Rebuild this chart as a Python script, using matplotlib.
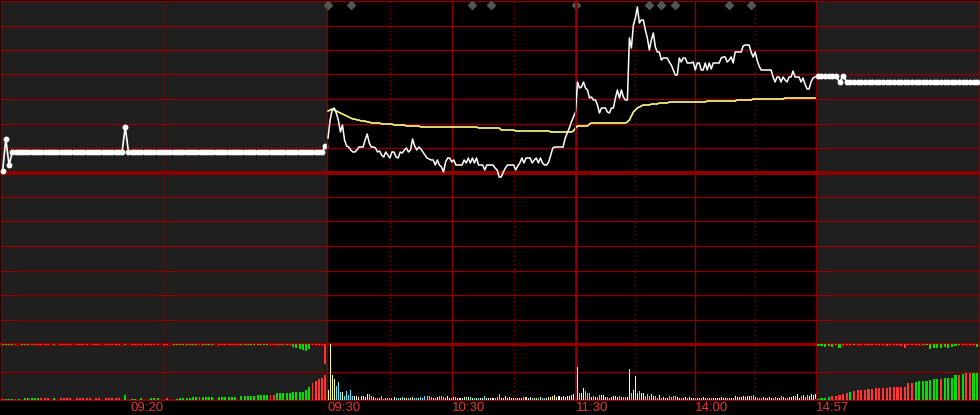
import numpy as np
import matplotlib
matplotlib.use("Agg")
import matplotlib.pyplot as plt
from matplotlib.transforms import blended_transform_factory

# ---------------- data ----------------
prev_close = 17.275
grid_step = 0.245

# call auction 09:15-09:25 (snapshot prices)
pre_price = [
    17.29, 17.61, 17.35, 17.48, 17.48, 17.48, 17.48, 17.48, 17.48, 17.48,
    17.48, 17.48, 17.48, 17.48, 17.48, 17.48, 17.48, 17.48, 17.48, 17.48,
    17.48, 17.48, 17.48, 17.48, 17.48, 17.48, 17.48, 17.48, 17.48, 17.48,
    17.48, 17.48, 17.48, 17.48, 17.48, 17.48, 17.48, 17.48, 17.73, 17.48,
    17.48, 17.48, 17.48, 17.48, 17.48, 17.48, 17.48, 17.48, 17.48, 17.48,
    17.48, 17.48, 17.48, 17.48, 17.48, 17.48, 17.48, 17.48, 17.48, 17.48,
    17.48, 17.48, 17.48, 17.48, 17.48, 17.48, 17.48, 17.48, 17.48, 17.48,
    17.48, 17.48, 17.48, 17.48, 17.48, 17.48, 17.48, 17.48, 17.48, 17.48,
    17.48, 17.48, 17.48, 17.48, 17.48, 17.48, 17.48, 17.48, 17.48, 17.48,
    17.48, 17.48, 17.48, 17.48, 17.48, 17.48, 17.48, 17.48, 17.48, 17.48,
    17.54,
]
# signed volumes: + red (buy side), - green (sell side)
pre_vol_matched = [
    1, -1, -1, -1, -1, -1, 0, -2, -2, -2,
    -2, -2, 2, 2, 2, 0, -2, 0, 2, 2,
    2, 2, 0, 2, 2, 2, 2, 2, 0, 2,
    2, 0, 2, 2, 2, 2, 2, 0, -5, 0,
    -1, -1, 0, -2, 0, 0, -2, -2, -2, 0,
    0, 2, 0, 0, -1, -2, -2, -2, -2, -3,
    -3, -3, -3, -3, -3, -3, 0, -3, -3, -3,
    -3, -3, -3, 0, -4, -4, -4, -4, -4, -5,
    -5, -5, -5, 5, 5, -7, -7, -7, -7, -7,
    -8, -8, -8, -8, -10, -13, 17, 19, 21, 22,
    25,
]
pre_vol_unmatched = [
    -1, -1, -1, -1, -1, 0, -1, -1, -1, -1,
    1, 1, 1, 1, 1, 0, -1, 0, 1, 1,
    1, 1, 0, 1, 1, 1, 1, 0, 1, 1,
    1, 0, 1, 1, 1, 1, 1, 0, -1, 0,
    1, 1, 1, 1, 1, 1, 1, 1, 1, 0,
    1, 1, 0, -1, -1, -1, -1, -1, -1, -1,
    -1, -1, -1, -1, -1, -1, 0, 1, 1, 1,
    1, 1, 1, 1, -1, -1, -1, -1, -1, -1,
    -1, -1, -1, 1, 1, 1, -1, 1, -1, 1,
    -3, -4, -5, -6, -7, -5, 1, 1, 1, 1,
    20,
]

# continuous session, one value per minute (09:30 ... 11:30 | 13:01 ... 15:00)
main_price = [
    17.62, 17.80, 17.90, 17.92, 17.87, 17.80, 17.68, 17.75, 17.60, 17.54,
    17.53, 17.50, 17.48, 17.48, 17.50, 17.53, 17.53, 17.53, 17.60, 17.66,
    17.57, 17.53, 17.53, 17.52, 17.48, 17.49, 17.45, 17.43, 17.48, 17.45,
    17.42, 17.48, 17.48, 17.43, 17.42, 17.48, 17.47, 17.50, 17.52, 17.48,
    17.50, 17.61, 17.54, 17.50, 17.53, 17.51, 17.48, 17.45, 17.42, 17.41,
    17.40, 17.40, 17.35, 17.40, 17.35, 17.33, 17.28, 17.38, 17.42, 17.42,
    17.38, 17.40, 17.35, 17.35, 17.35, 17.35, 17.40, 17.37, 17.42, 17.37,
    17.42, 17.37, 17.42, 17.35, 17.35, 17.35, 17.30, 17.35, 17.35, 17.35,
    17.35, 17.32, 17.30, 17.23, 17.23, 17.28, 17.32, 17.35, 17.35, 17.35,
    17.35, 17.30, 17.34, 17.37, 17.42, 17.37, 17.42, 17.42, 17.42, 17.37,
    17.40, 17.42, 17.37, 17.42, 17.37, 17.35, 17.35, 17.38, 17.45, 17.52,
    17.53, 17.53, 17.53, 17.53, 17.53, 17.62, 17.67, 17.72, 17.78, 17.83,
    17.88,
    18.18, 18.12, 18.13, 18.18, 18.12, 18.10, 18.02, 18.03, 18.00, 18.00,
    17.95, 17.87, 17.92, 17.92, 17.92, 17.88, 17.87, 17.92, 17.92, 18.02,
    18.10, 18.02, 18.10, 18.03, 18.00, 18.00, 18.62, 18.52, 18.75, 18.82,
    18.93, 18.77, 18.80, 18.80, 18.70, 18.62, 18.50, 18.60, 18.67, 18.53,
    18.48, 18.48, 18.40, 18.42, 18.42, 18.42, 18.38, 18.35, 18.30, 18.25,
    18.25, 18.42, 18.38, 18.42, 18.42, 18.37, 18.37, 18.37, 18.38, 18.30,
    18.37, 18.37, 18.30, 18.30, 18.37, 18.30, 18.37, 18.31, 18.37, 18.37,
    18.37, 18.37, 18.42, 18.43, 18.43, 18.38, 18.40, 18.43, 18.37, 18.48,
    18.48, 18.48, 18.48, 18.54, 18.55, 18.55, 18.55, 18.48, 18.43, 18.48,
    18.40, 18.34, 18.30, 18.30, 18.30, 18.30, 18.30, 18.30, 18.23, 18.18,
    18.23, 18.23, 18.18, 18.23, 18.20, 18.18, 18.23, 18.23, 18.29, 18.23,
    18.23, 18.23, 18.18, 18.22, 18.16, 18.11, 18.11, 18.18, 18.22, 18.23,
]
main_avg = [
    17.89, 17.90, 17.91, 17.90, 17.89, 17.88, 17.87, 17.86, 17.85, 17.84,
    17.83, 17.82, 17.81, 17.81, 17.80, 17.80, 17.79, 17.79, 17.79, 17.78,
    17.78, 17.77, 17.77, 17.77, 17.77, 17.77, 17.76, 17.76, 17.76, 17.76,
    17.76, 17.76, 17.75, 17.75, 17.75, 17.75, 17.75, 17.75, 17.74, 17.74,
    17.74, 17.74, 17.74, 17.74, 17.74, 17.73, 17.73, 17.73, 17.73, 17.73,
    17.73, 17.73, 17.73, 17.73, 17.73, 17.73, 17.73, 17.73, 17.73, 17.73,
    17.73, 17.73, 17.73, 17.73, 17.73, 17.73, 17.73, 17.73, 17.73, 17.73,
    17.73, 17.73, 17.73, 17.72, 17.72, 17.72, 17.72, 17.72, 17.72, 17.72,
    17.72, 17.72, 17.72, 17.72, 17.70, 17.70, 17.70, 17.70, 17.70, 17.70,
    17.70, 17.69, 17.69, 17.69, 17.69, 17.69, 17.69, 17.69, 17.69, 17.69,
    17.69, 17.69, 17.69, 17.69, 17.69, 17.69, 17.69, 17.69, 17.68, 17.68,
    17.68, 17.68, 17.68, 17.68, 17.68, 17.68, 17.68, 17.68, 17.68, 17.69,
    17.72,
    17.74, 17.74, 17.74, 17.74, 17.74, 17.74, 17.76, 17.77, 17.77, 17.77,
    17.77, 17.77, 17.77, 17.77, 17.77, 17.77, 17.77, 17.77, 17.77, 17.77,
    17.77, 17.77, 17.77, 17.77, 17.77, 17.78, 17.80, 17.84, 17.88, 17.90,
    17.92, 17.93, 17.94, 17.95, 17.95, 17.95, 17.95, 17.96, 17.96, 17.96,
    17.96, 17.97, 17.97, 17.97, 17.97, 17.97, 17.98, 17.98, 17.98, 17.98,
    17.98, 17.98, 17.98, 17.98, 17.98, 17.98, 17.98, 17.98, 17.98, 17.98,
    17.98, 17.98, 17.98, 17.98, 17.98, 17.99, 17.99, 17.99, 17.99, 17.99,
    17.99, 17.99, 17.99, 17.99, 17.99, 17.99, 17.99, 17.99, 17.99, 17.99,
    18.00, 18.00, 18.00, 18.00, 18.00, 18.00, 18.00, 18.00, 18.01, 18.01,
    18.01, 18.01, 18.01, 18.01, 18.01, 18.01, 18.01, 18.01, 18.01, 18.01,
    18.01, 18.01, 18.01, 18.01, 18.02, 18.02, 18.02, 18.02, 18.02, 18.02,
    18.02, 18.02, 18.02, 18.02, 18.02, 18.02, 18.02, 18.02, 18.02, 18.02,
]
# volume in hundreds of lots
main_vol = [
    10, 56, 25, 21, 14, 18, 8, 8, 4, 9, 5, 10, 4, 4, 4, 3, 4, 4, 3, 6,
    6, 4, 3, 2, 2, 2, 4, 1, 2, 2, 2, 2, 3, 2, 2, 2, 3, 2, 2, 2,
    2, 3, 2, 2, 2, 3, 2, 4, 4, 4, 3, 2, 2, 3, 4, 4, 3, 2, 4, 2,
    2, 3, 3, 2, 2, 2, 3, 3, 3, 3, 2, 2, 2, 2, 2, 2, 4, 2, 2, 2,
    2, 2, 3, 6, 2, 2, 4, 2, 3, 2, 2, 2, 2, 2, 2, 3, 3, 2, 3, 2,
    2, 2, 2, 3, 2, 2, 2, 3, 3, 4, 5, 3, 4, 3, 4, 3, 4, 4, 5, 6,
    3,
    33, 7, 7, 12, 9, 7, 7, 3, 4, 3, 3, 5, 5, 5, 3, 3, 2, 3, 4, 4,
    3, 4, 3, 3, 3, 3, 31, 7, 10, 24, 7, 9, 7, 7, 4, 6, 4, 6, 4, 4,
    2, 5, 2, 3, 2, 2, 4, 3, 4, 4, 3, 2, 2, 2, 3, 2, 3, 2, 2, 2,
    2, 2, 2, 3, 2, 2, 2, 2, 2, 2, 2, 2, 3, 2, 2, 2, 2, 2, 2, 4,
    3, 3, 3, 4, 3, 4, 4, 4, 5, 3, 2, 2, 2, 3, 2, 2, 3, 2, 2, 3,
    2, 2, 4, 3, 2, 2, 3, 3, 4, 4, 6, 2, 4, 5, 3, 5, 4, 6, 5, 6,
]

# closing call auction 14:57-15:00
post_price = [
    18.24, 18.24, 18.24, 18.24, 18.24, 18.24, 18.18, 18.24, 18.18, 18.18,
    18.18, 18.18, 18.18, 18.18, 18.18, 18.18, 18.18, 18.18, 18.18, 18.18,
    18.18, 18.18, 18.18, 18.18, 18.18, 18.18, 18.18, 18.18, 18.18, 18.18,
    18.18, 18.18, 18.18, 18.18, 18.18, 18.18, 18.18, 18.18, 18.18, 18.18,
    18.18, 18.18, 18.18, 18.18, 18.18,
]
post_vol_matched = [
    -1, -2, -2, -3, 4, 4, 5, 6, 7, -8, 9, 10, 10, 10, 11, 11, 12, 12, 12, 12,
    13, 13, 13, 13, 13, 17, 17, -18, -19, -19, -19, -20, -21, -21, 21, -22,
    -22, -22, -25, 25, -26, 27, 27, -27, -27,
]
post_vol_unmatched = [
    -2, -2, -3, -2, -3, 1, -4, 1, 1, 1, -1, 1, 1, 1, 1, 1, 1, 1, 1, 2,
    1, 1, 1, 2, 4, 1, 1, 1, 1, -1, -1, -5, -4, -4, -4, -3, -4, -3, -2, -1,
    1, 1, 1, 1, -3,
]

# news / event markers (minute index of continuous session)
event_idx = [0, 11, 70, 79, 120, 157, 163, 170, 197, 208]

# time axis labels: (section, index, text)
time_labels = [("pre", -0.5, "09:15"), ("pre", 50, "09:20"), ("am", -0.5, "09:30"),
               ("am", 60, "10:30"), ("pm", 120, "11:30"), ("pm", 180, "14:00"),
               ("post", -0.5, "14:57")]

# ---------------- styling / layout ----------------
GRID = "#8a0000"
BG_AUCTION = "#1f1f1f"
RED = "#ff3535"
GREEN = "#00e000"
YEL = "#ffff88"
CYAN = "#55e8ff"
WHITE = "#ffffff"
AVG = "#ffff80"
LABEL = "#e23a3a"

W, H = 980, 415
fig = plt.figure(figsize=(W / 100, H / 100), dpi=100, facecolor="black")


def add_ax(x0, x1, y0, y1, fc="none", z=1):
    ax = fig.add_axes([x0 / W, 1 - y1 / H, (x1 - x0) / W, (y1 - y0) / H], zorder=z)
    ax.set_facecolor(fc)
    for s in ax.spines.values():
        s.set_visible(False)
    ax.set_xticks([])
    ax.set_yticks([])
    return ax


XS = {"pre": (1, 327), "am": (327, 575.5), "pm": (575.5, 816), "post": (816, 979)}
n_pre, n_post = len(pre_price), len(post_price)
XL = {"pre": (-0.5, n_pre - 0.5), "am": (-0.5, 120), "pm": (120, 240.5),
      "post": (-0.5, n_post - 0.5)}

# auction backgrounds
add_ax(1, 327, 1, 400, fc=BG_AUCTION, z=0)
add_ax(816, 979, 1, 400, fc=BG_AUCTION, z=0)

ylo, yhi = prev_close - 7 * grid_step, prev_close + 7 * grid_step
levels = prev_close + grid_step * np.arange(-6, 8)

price_ax, vol_axes = {}, {}
for key in ["pre", "am", "pm", "post"]:
    x0, x1 = XS[key]
    pa = add_ax(x0, x1, 1, 344)
    pa.set_xlim(*XL[key])
    pa.set_ylim(ylo, yhi)
    for lv in levels:
        lw = 3 if abs(lv - prev_close) < 1e-9 else 1
        pa.axhline(lv, color=GRID, lw=lw, clip_on=False, zorder=1)
    price_ax[key] = pa
    if key in ("am", "pm"):
        va = add_ax(x0, x1, 344, 400)
        va.set_xlim(*XL[key])
        va.set_ylim(0, 56)
        va.axhline(56, color=GRID, lw=2.5, clip_on=False, zorder=1)
        va.axhline(28, color=GRID, lw=1, zorder=1)
        va.axhline(0, color=GRID, lw=1.5, clip_on=False, zorder=1)
        vol_axes[key] = [va]
    else:
        vu = add_ax(x0, x1, 344, 372)
        vu.set_xlim(*XL[key])
        vu.set_ylim(28, 0)
        vu.axhline(0, color=GRID, lw=2.5, clip_on=False, zorder=1)
        vu.axhline(28, color=GRID, lw=1, clip_on=False, zorder=1)
        vl = add_ax(x0, x1, 372, 400)
        vl.set_xlim(*XL[key])
        vl.set_ylim(0, 28)
        vl.axhline(0, color=GRID, lw=1.5, clip_on=False, zorder=1)
        vol_axes[key] = [vu, vl]


def vline(key, x, lw=1, ls="-"):
    for ax in [price_ax[key]] + vol_axes[key]:
        ax.axvline(x, color=GRID, lw=lw, ls=ls, clip_on=False, zorder=1)


DOT = (0, (1, 2))
vline("pre", -0.5)
vline("pre", 50, ls=DOT)
vline("am", -0.5)
vline("am", 30, ls=DOT)
vline("am", 60)
vline("am", 90, ls=DOT)
vline("pm", 120, lw=2)
vline("pm", 150, ls=DOT)
vline("pm", 180)
vline("pm", 210, ls=DOT)
vline("pm", 240.5)
vline("post", n_post - 0.5)

# ---- auction sections ----
for key, prices, vm, vu_ in [("pre", pre_price, pre_vol_matched, pre_vol_unmatched),
                             ("post", post_price, post_vol_matched, post_vol_unmatched)]:
    x = np.arange(len(prices))
    price_ax[key].plot(x, prices, color=WHITE, lw=1.2, marker="o", ms=3.2,
                       mfc=WHITE, mec=WHITE, zorder=3, clip_on=False)
    vm = np.asarray(vm)
    vu_ = np.asarray(vu_)
    vu_ax, vl_ax = vol_axes[key]
    vl_ax.bar(x, np.abs(vm), width=0.6, color=np.where(vm > 0, RED, GREEN), zorder=3)
    vu_ax.bar(x, np.abs(vu_), width=0.6, color=np.where(vu_ > 0, RED, GREEN), zorder=3)

# ---- continuous session ----
mp = np.asarray(main_price)
ma = np.asarray(main_avg)
mv = np.asarray(main_vol)
xm = np.arange(len(mp))
chg = np.diff(np.concatenate([[pre_price[-1]], mp]))
vcol = np.where(chg > 0, YEL, np.where(chg < 0, CYAN, WHITE))

am = xm <= 120
pm = xm >= 120
price_ax["am"].plot(xm[am], ma[am], color=AVG, lw=1.2, zorder=3)
price_ax["pm"].plot(xm[pm], ma[pm], color=AVG, lw=1.2, zorder=3)
price_ax["am"].plot(xm[am], mp[am], color=WHITE, lw=1.1, zorder=4)
price_ax["pm"].plot(xm[pm], mp[pm], color=WHITE, lw=1.1, zorder=4)

vam = xm <= 120
vpm = xm > 120
vol_axes["am"][0].bar(xm[vam], mv[vam], width=0.5, color=vcol[vam], zorder=3)
vol_axes["pm"][0].bar(xm[vpm], mv[vpm], width=0.5, color=vcol[vpm], zorder=3)

# event markers along the top
ev = np.asarray(event_idx)
for key, sel in [("am", ev <= 120), ("pm", ev > 120)]:
    ax = price_ax[key]
    tr = blended_transform_factory(ax.transData, ax.transAxes)
    ax.plot(ev[sel], np.full(sel.sum(), 0.988), ls="none", marker="D", ms=4.3,
            color="#555555", transform=tr, clip_on=False, zorder=5)

# time labels
for key, xi, txt in time_labels:
    ax = price_ax[key]
    tr = blended_transform_factory(ax.transData, fig.transFigure)
    ha = "right" if key == "pre" else "left"
    ax.text(xi, 7.5 / H, txt, transform=tr, ha=ha, va="center", color=LABEL,
            fontsize=9.5, family=["Liberation Sans", "DejaVu Sans"], clip_on=False)

fig.savefig("out.png", dpi=100, facecolor="black")
